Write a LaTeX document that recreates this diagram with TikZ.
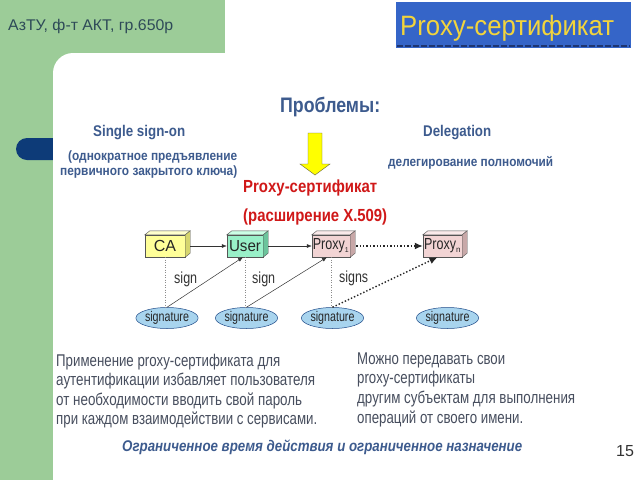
\documentclass[tikz,border=0pt]{standalone}
\usepackage{fontspec}
\setmainfont{Liberation Sans}
\usepackage{graphicx}
\usetikzlibrary{arrows.meta,calc,shapes.geometric}
\definecolor{bggreen}{HTML}{9CCC98}
\definecolor{pill}{HTML}{0D3B78}
\definecolor{titleblue}{HTML}{3565C8}
\definecolor{titledark}{HTML}{1E3570}
\definecolor{titleyellow}{HTML}{F2D43C}
\definecolor{headblue}{HTML}{3D5B8E}
\definecolor{bodygray}{HTML}{474E5E}
\definecolor{redt}{HTML}{D01818}
\definecolor{topgray}{HTML}{2E4A58}
\definecolor{sigfill}{HTML}{A8D4EE}
\definecolor{sigdraw}{HTML}{1E4A88}
\definecolor{cafront}{HTML}{FFFF99}
\definecolor{catop}{HTML}{FFFFCC}
\definecolor{caside}{HTML}{D6D66E}
\definecolor{ufront}{HTML}{99F0C8}
\definecolor{utop}{HTML}{CCFFE6}
\definecolor{uside}{HTML}{6CC49C}
\definecolor{pfront}{HTML}{F2D4D4}
\definecolor{ptop}{HTML}{FAEAEA}
\definecolor{pside}{HTML}{C8A8A8}
\definecolor{boxedge}{HTML}{555555}
\definecolor{yarrow}{HTML}{FFFF00}
\newcommand\fitw[2]{\resizebox{#1pt}{\height}{#2}}
\newcommand\cubefaces[3]{%
  \filldraw[fill=#2,draw=boxedge,line width=0.4pt] (#1.north west) -- ++(5,-4) -- ($(#1.north east)+(5,-4)$) -- (#1.north east) -- cycle;
  \filldraw[fill=#3,draw=boxedge,line width=0.4pt] (#1.north east) -- ++(5,-4) -- ($(#1.south east)+(5,-4)$) -- (#1.south east) -- cycle;}
\begin{document}
\begin{tikzpicture}[x=1pt,y=-1pt,
  txt/.style={inner sep=0pt, anchor=base west},
  headtxt/.style={txt, text=headblue, font=\bfseries\fontsize{15.5}{18}\selectfont},
  subtxt/.style={txt, text=headblue, font=\bfseries\fontsize{13.5}{15}\selectfont},
  redtxt/.style={txt, text=redt, font=\bfseries\fontsize{17.5}{20}\selectfont},
  bodytxt/.style={txt, text=bodygray, font=\fontsize{17}{19}\selectfont},
  labtxt/.style={txt, text=black!80, font=\fontsize{16}{18}\selectfont},
  cube/.style={rectangle, draw=boxedge, line width=0.4pt, inner sep=0pt,
    minimum height=22pt, text=black!85, font=\fontsize{16}{18}\selectfont},
  sig/.style={ellipse, fill=sigfill, draw=sigdraw, line width=0.5pt, inner sep=0pt,
    minimum width=50pt, minimum height=21pt, text=black!85, font=\fontsize{14}{16}\selectfont},
  solidarr/.style={draw=black!80, line width=0.5pt, -{Latex[length=5pt,width=4pt]}},
  dotarr/.style={draw=black!85, line width=1.4pt, dotted, -{Latex[length=8pt,width=7pt]}},
  vdot/.style={draw=black!45, line width=0.5pt, dotted}]
\useasboundingbox (0,0) rectangle (640,480);
% background
\fill[white] (0,0) rectangle (640,480);
\fill[bggreen] (0,0) rectangle (225,80);
\fill[bggreen] (0,0) rectangle (53,480);
\fill[pill,rounded corners=11pt] (16,138) rectangle (64,160);
\fill[white,rounded corners=20pt] (53,53) rectangle (690,530);
% header
\node[txt, text=topgray, font=\fontsize{15.5}{18}\selectfont] (org) at (8,30.6) {\fitw{165}{АзТУ, ф-т АКТ, гр.650р}};
\fill[titleblue] (396,2) rectangle (631,48);
\draw[titledark, line width=2pt, dash pattern=on 6pt off 2pt] (397,46) -- (630,46);
\node[txt, text=titleyellow, font=\fontsize{28}{30}\selectfont] (title) at (400,35) {\fitw{214}{Proxy-сертификат}};
% problems
\node[txt, text=headblue, font=\bfseries\fontsize{21}{24}\selectfont] (prob) at (280,112.6) {\fitw{100}{Проблемы:}};
\node[headtxt] (sso) at (93,136.4) {\fitw{92}{Single sign-on}};
\node[headtxt] (deleg) at (423,136.4) {\fitw{68}{Delegation}};
\node[subtxt] (sso1) at (68,160.7) {\fitw{169}{(однократное предъявление}};
\node[subtxt] (sso2) at (60,175.7) {\fitw{177}{первичного закрытого ключа)}};
\node[subtxt] (deleg1) at (388,166.7) {\fitw{165}{делегирование полномочий}};
% yellow arrow
\filldraw[fill=yarrow, draw=black!50!yellow!60!black, line width=0.4pt]
  (308,133) -- (322,133) -- (322,164) -- (330,164) -- (315,175) -- (300,164) -- (308,164) -- cycle;
\node[redtxt] (px1) at (243,192) {\fitw{134}{Proxy-сертификат}};
\node[redtxt] (px2) at (243,221) {\fitw{144}{(расширение X.509)}};
% boxes
\node[cube, fill=cafront, minimum width=40pt] (CA) at (165,246) {CA};
\cubefaces{CA}{catop}{caside}
\node[cube, fill=ufront, minimum width=36pt] (U) at (245,246) {\fitw{32}{User}};
\cubefaces{U}{utop}{uside}
\node[cube, fill=pfront, minimum width=38pt] (P1) at (331,246) {\fitw{32}{Proxy}\textsubscript{\fontsize{7}{8}\selectfont 1}};
\cubefaces{P1}{ptop}{pside}
\node[cube, fill=pfront, minimum width=39pt] (Pn) at (442.5,246) {\fitw{32}{Proxy}\textsubscript{\fontsize{8}{8}\selectfont n}};
\cubefaces{Pn}{ptop}{pside}
% signatures
\node[sig] (s1) at (167,318) {\fitw{44}{signature}};
\node[sig] (s2) at (246.5,318) {\fitw{44}{signature}};
\node[sig] (s3) at (332.5,318) {\fitw{44}{signature}};
\node[sig] (s4) at (447.5,318) {\fitw{44}{signature}};
% labels
\node[labtxt] (l1) at (174,283.5) {\fitw{23}{sign}};
\node[labtxt] (l2) at (252,283.5) {\fitw{23}{sign}};
\node[labtxt] (l3) at (339,282.5) {\fitw{29}{signs}};
% connectors
\draw[solidarr] ([xshift=5pt]CA.east) -- (U.west);
\draw[solidarr] ([xshift=5pt]U.east) -- (P1.west);
\draw[dotarr] ([xshift=6pt]P1.east) -- (Pn.west);
\draw[vdot] (CA.south) -- (CA.south |- s1.north);
\draw[vdot] (U.south) -- (U.south |- s2.north);
\draw[vdot] (P1.south) -- (P1.south |- s3.north);
\draw[solidarr] (s1.north) -- ([xshift=-2pt]U.south);
\draw[solidarr] (s2.north) -- ([xshift=-4pt]P1.south);
\draw[dotarr] (s3.north) -- ([xshift=-5pt]Pn.south);
% bottom text
\node[bodytxt] (a1) at (56,366) {\fitw{224}{Применение proxy-сертификата для}};
\node[bodytxt] (a2) at (56,385) {\fitw{259}{аутентификации избавляет пользователя}};
\node[bodytxt] (a3) at (56,405) {\fitw{246}{от необходимости вводить свой пароль}};
\node[bodytxt] (a4) at (56,424) {\fitw{261}{при каждом взаимодействии с сервисами.}};
\node[bodytxt] (b1) at (357,364) {\fitw{148}{Можно передавать свои}};
\node[bodytxt] (b2) at (357,383) {\fitw{118}{proxy-сертификаты}};
\node[bodytxt] (b3) at (357,403) {\fitw{218}{другим субъектам для выполнения}};
\node[bodytxt] (b4) at (357,423) {\fitw{166}{операций от своего имени.}};
\node[txt, text=headblue, font=\bfseries\itshape\fontsize{15.5}{18}\selectfont] (lim) at (122,451.6) {\fitw{400}{Ограниченное время действия и ограниченное назначение}};
\node[txt, text=black!80, font=\fontsize{16}{19}\selectfont] (pg) at (616,456.8) {15};
\end{tikzpicture}
\end{document}
